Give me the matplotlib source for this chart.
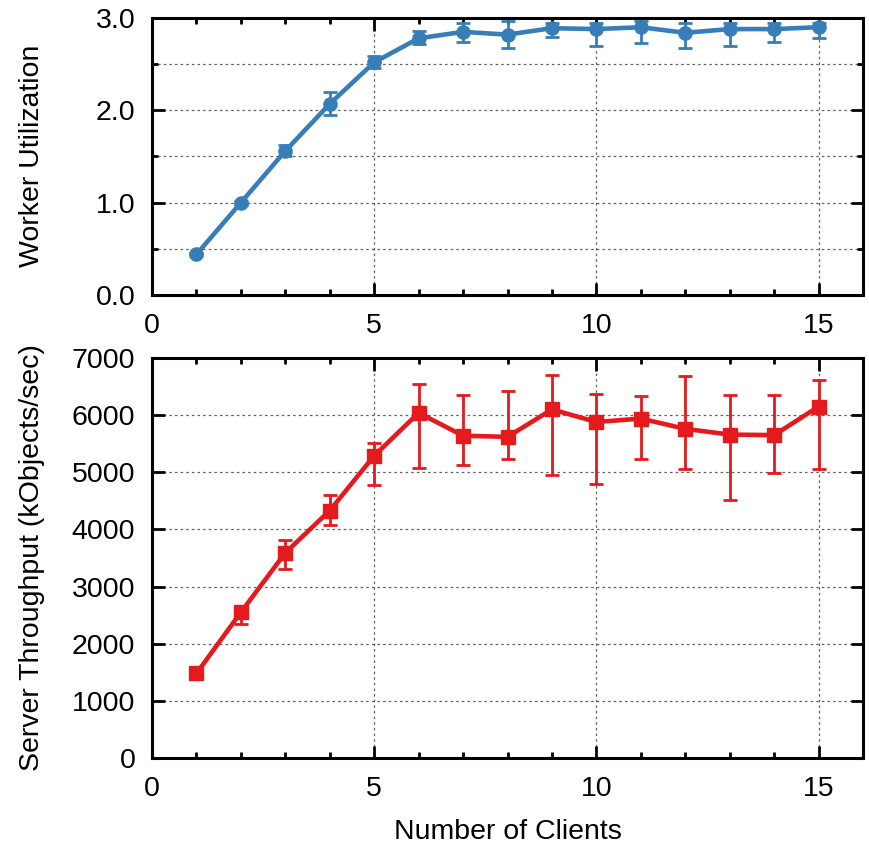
import matplotlib
matplotlib.use('Agg')
import matplotlib.pyplot as plt
from matplotlib.ticker import MultipleLocator
import numpy as np

# number of clients
clients = [1, 2, 3, 4, 5, 6, 7, 8, 9, 10, 11, 12, 13, 14, 15]

# worker utilization (mean, low / high end of error bar)
util = [0.44, 1.00, 1.56, 2.07, 2.52, 2.78, 2.85, 2.82, 2.89, 2.88, 2.90, 2.84, 2.88, 2.88, 2.90]
util_lo = [0.42, 0.98, 1.50, 1.95, 2.46, 2.72, 2.74, 2.68, 2.79, 2.70, 2.73, 2.68, 2.70, 2.74, 2.78]
util_hi = [0.46, 1.02, 1.62, 2.20, 2.59, 2.86, 2.95, 2.97, 2.95, 2.95, 2.97, 2.95, 2.95, 2.95, 2.95]

# server throughput in kObjects/sec
thr = [1480, 2550, 3590, 4330, 5290, 6040, 5640, 5620, 6100, 5880, 5940, 5760, 5660, 5650, 6150]
thr_lo = [1450, 2340, 3310, 4070, 4780, 5080, 5130, 5230, 4950, 4790, 5230, 5050, 4510, 4980, 5050]
thr_hi = [1510, 2660, 3820, 4600, 5520, 6550, 6350, 6420, 6700, 6370, 6340, 6690, 6360, 6360, 6610]

blue = '#377eb8'
red = '#e41a1c'

plt.rcParams['font.family'] = ['Liberation Sans', 'DejaVu Sans']
plt.rcParams['font.size'] = 20.5

fig = plt.figure(figsize=(8.69, 8.46), dpi=100)
W, H = 869.0, 846.0
ax1 = fig.add_axes([152 / W, 1 - 295 / H, (863 - 152) / W, 277 / H])
ax2 = fig.add_axes([152 / W, 1 - 758 / H, (863 - 152) / W, 400 / H])

grid_kw = dict(color='#606060', linestyle=(0, (2, 2.5)), linewidth=0.9)


def style(ax):
    ax.set_xlim(0, 16)
    ax.xaxis.set_major_locator(MultipleLocator(5))
    ax.xaxis.set_minor_locator(MultipleLocator(1))
    ax.tick_params(which='both', direction='in', top=True, right=True, width=2)
    ax.tick_params(which='major', length=9)
    ax.tick_params(which='minor', length=4.5)
    ax.tick_params(axis='x', which='major', pad=13)
    ax.tick_params(axis='y', which='major', pad=12)
    for s in ax.spines.values():
        s.set_linewidth(2.2)
    ax.grid(True, which='major', axis='x', **grid_kw)
    ax.set_axisbelow(True)


style(ax1)
ax1.set_ylim(0, 3.0)
ax1.yaxis.set_major_locator(MultipleLocator(1.0))
ax1.yaxis.set_minor_locator(MultipleLocator(0.5))
ax1.yaxis.set_major_formatter(plt.FormatStrFormatter('%.1f'))
ax1.grid(True, which='both', axis='y', **grid_kw)
u = np.array(util)
ax1.errorbar(clients, util, yerr=[u - np.array(util_lo), np.array(util_hi) - u],
             fmt='-o', color=blue, lw=3.3, ms=9.5, elinewidth=2, capsize=5, capthick=2,
             clip_on=False, zorder=3)

style(ax2)
ax2.set_ylim(0, 7000)
ax2.yaxis.set_major_locator(MultipleLocator(1000))
ax2.grid(True, which='major', axis='y', **grid_kw)
t = np.array(thr)
ax2.errorbar(clients, thr, yerr=[t - np.array(thr_lo), np.array(thr_hi) - t],
             fmt='-s', color=red, lw=3.3, ms=10.5, elinewidth=2, capsize=5, capthick=2,
             clip_on=False, zorder=3)
ax2.set_xlabel('Number of Clients', labelpad=12)

fig.text(32 / W, 1 - 156 / H, 'Worker Utilization', rotation=90, ha='center', va='center')
fig.text(32 / W, 1 - 558 / H, 'Server Throughput (kObjects/sec)', rotation=90, ha='center', va='center')

fig.savefig('out.png', dpi=100)
